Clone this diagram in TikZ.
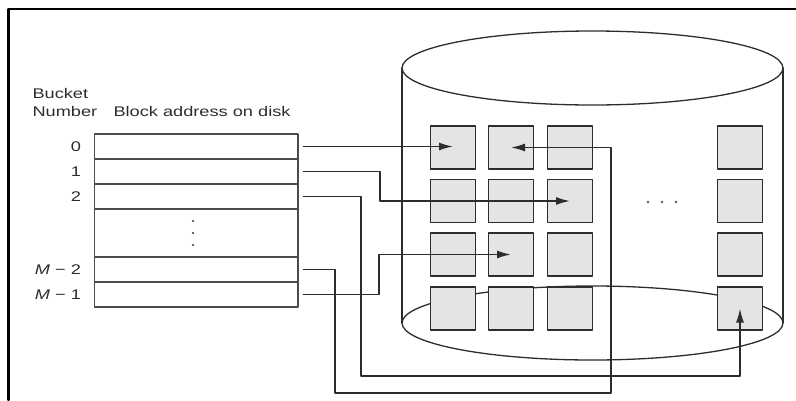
\documentclass[tikz,border=0pt]{standalone}
\usepackage{fontspec}
\setmainfont{Liberation Sans}[FakeStretch=1.3]
\usetikzlibrary{arrows.meta}
\definecolor{blockgray}{RGB}{228,228,228}
\definecolor{inkgray}{RGB}{45,45,45}

\begin{document}
\begin{tikzpicture}[x=1pt,y=-1pt,line cap=round,line join=round,
    cell/.style={draw=inkgray!85,line width=1.1pt,minimum width=203.5pt,minimum height=25pt,inner sep=0pt},
    blk/.style={draw=inkgray,fill=blockgray,line width=1.7pt,minimum width=45pt,minimum height=43pt,inner sep=0pt},
    lbl/.style={anchor=east,text=inkgray,font=\fontsize{14}{14}\selectfont},
    link/.style={line width=1.6pt,draw=inkgray,-{Latex[length=14pt,width=8pt]}}]
    \path[use as bounding box] (0,0) rectangle (796,400);

    % frame
    \draw[line width=2.2pt] (8.5,400) -- (8.5,9) -- (796,9);

    % disk
    \draw[line width=1.3pt,inkgray] (592.5,68) ellipse[x radius=190.5pt,y radius=37pt];
    \draw[line width=1.3pt,inkgray] (402,68) -- (402,323);
    \draw[line width=1.3pt,inkgray] (783,68) -- (783,323);
    \draw[line width=1.3pt,inkgray] (592.5,323) ellipse[x radius=190.5pt,y radius=37pt];

    \foreach \r/\y in {1/147.5,2/201,3/254.5,4/308.5}
        \foreach \c/\x in {1/453,2/511,3/570,4/740}
            \node[blk] (b\r\c) at (\x,\y) {};

    \fill[inkgray!80] (648,202) circle[radius=1.4pt];
    \fill[inkgray!80] (662,202) circle[radius=1.4pt];
    \fill[inkgray!80] (676,202) circle[radius=1.4pt];

    % bucket table
    \node[cell] (r0) at (196.25,146.5) {};
    \node[cell] (r1) at (196.25,171.5) {};
    \node[cell] (r2) at (196.25,196.5) {};
    \node[cell,minimum height=48pt] (rd) at (196.25,233) {};
    \node[cell] (rm2) at (196.25,269.5) {};
    \node[cell] (rm1) at (196.25,294.5) {};

    \fill[inkgray] (193,221) circle[radius=1.2pt];
    \fill[inkgray] (193,233) circle[radius=1.2pt];
    \fill[inkgray] (193,245) circle[radius=1.2pt];

    \node[lbl,anchor=base west] (hb) at (29,98) {Bucket};
    \node[lbl,anchor=base west] (hn) at (29,116) {Number};
    \node[lbl,anchor=base west] (ha) at (110,116) {Block address on disk};

    \node[lbl] (l0) at ([xshift=-9.5pt]r0.west) {0};
    \node[lbl] (l1) at ([xshift=-9.5pt]r1.west) {1};
    \node[lbl] (l2) at ([xshift=-9.5pt]r2.west) {2};
    \node[lbl] (lm2) at ([xshift=-9.5pt]rm2.west) {{\itshape M} − 2};
    \node[lbl] (lm1) at ([xshift=-9.5pt]rm1.west) {{\itshape M} − 1};

    % pointers
    \coordinate (j1) at (380,0);
    \coordinate (j2) at (361,376);
    \coordinate (j3) at (335,393);
    \coordinate (j4) at (611,0);
    \coordinate (j5) at (379,0);

    \draw[link] ([xshift=5pt]r0.east) -- (r0.east -| b11.center);
    \draw[link] ([xshift=5pt]r1.east) -| (j1 |- b23.center) -- (b23.center);
    \draw[link] ([xshift=5pt]r2.east) -| (j2) -| (b44.center);
    \draw[link] ([xshift=5pt]rm2.east) -| (j3) -| (j4 |- b12.center) -- (b12.center);
    \draw[link] ([xshift=5pt]rm1.east) -| (j5 |- b32.center) -- (b32.center);
\end{tikzpicture}
\end{document}
